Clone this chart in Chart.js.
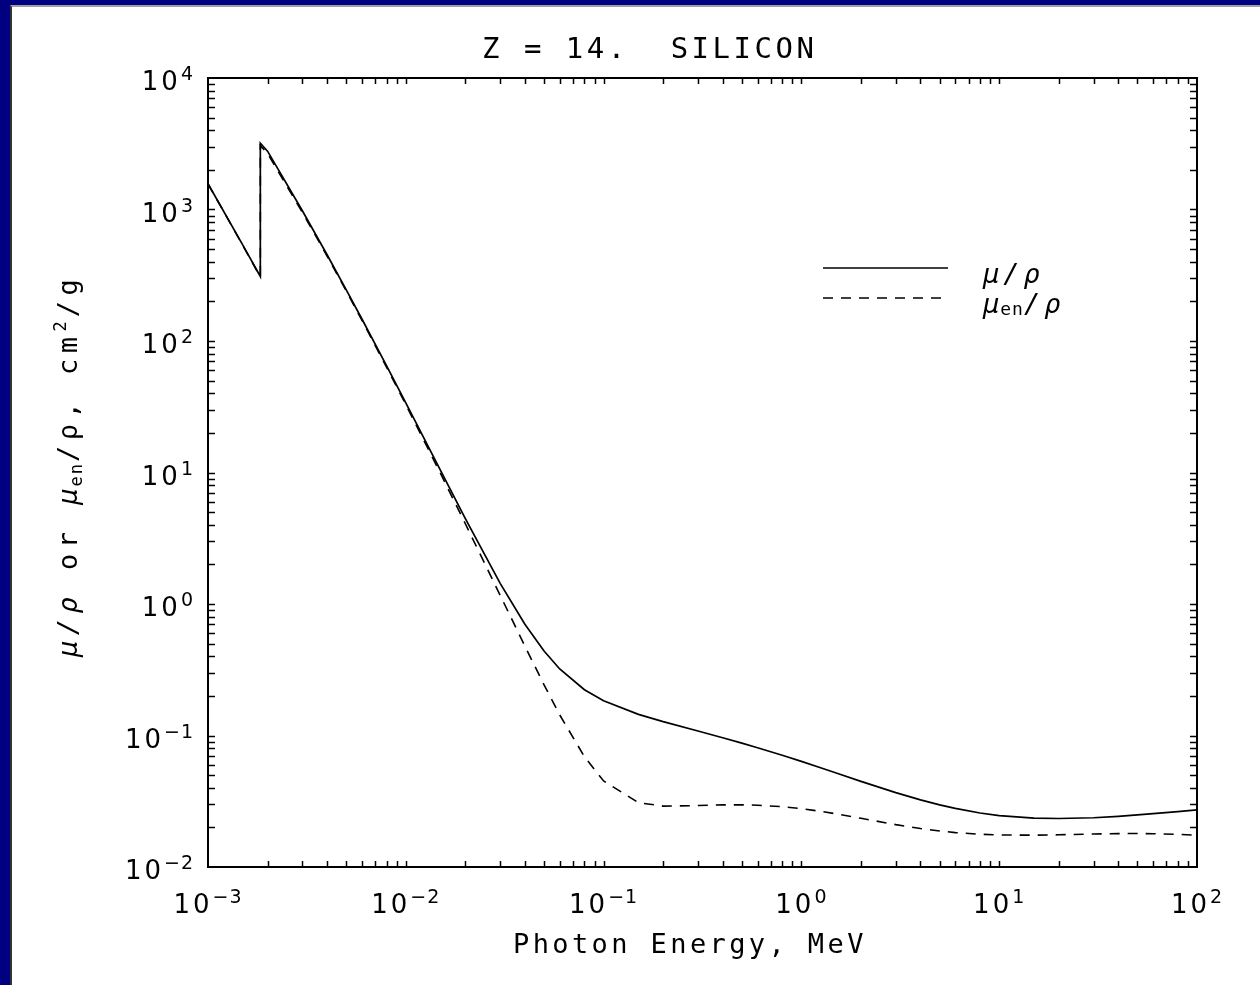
<!DOCTYPE html>
<html>
<head>
<meta charset="utf-8">
<script src="https://cdn.jsdelivr.net/npm/chart.js@4.4.1/dist/chart.umd.min.js"></script>
<style>
  html, body { margin: 0; padding: 0; background: #000080; overflow: hidden; }
  #panel {
    position: absolute; left: 10px; top: 5px; width: 1260px; height: 990px;
    background: #fff; border-left: 2px solid #333; border-top: 2px solid #a0a0a0;
  }
  #chart { position: absolute; left: 0; top: 0; }
</style>
</head>
<body>
<div id="panel"></div>
<canvas id="chart" width="1260" height="985"></canvas>
<script>
// photon energy, MeV (K edge listed twice)
const energia = [0.001, 0.0015, 0.0018389, 0.0018389, 0.002, 0.003, 0.004, 0.005, 0.006, 0.008,
    0.01, 0.015, 0.02, 0.03, 0.04, 0.05, 0.06, 0.08, 0.1, 0.15, 0.2, 0.3, 0.4, 0.5, 0.6, 0.8,
    1, 1.25, 1.5, 2, 3, 4, 5, 6, 8, 10, 15, 20, 30, 40, 50, 60, 80, 100];
// mu/rho, cm2/g
const muRho = [1570, 535.5, 309.2, 3192, 2777, 978.4, 452.9, 245.0, 147.0, 64.68,
    33.89, 10.34, 4.464, 1.436, 0.7012, 0.4385, 0.3207, 0.2228, 0.1835, 0.1448, 0.1275, 0.1082, 0.09614, 0.08748, 0.08077, 0.07082,
    0.06361, 0.05688, 0.05183, 0.04480, 0.03678, 0.03240, 0.02967, 0.02788, 0.02574, 0.02462, 0.02352, 0.02338, 0.02369, 0.02429, 0.02489, 0.02544, 0.02637, 0.02715];
// mu_en/rho, cm2/g
const muEnRho = [1567, 533.1, 307.0, 3059, 2669, 951.6, 442.7, 240.0, 143.9, 63.13,
    32.89, 9.794, 4.076, 1.164, 0.4782, 0.2430, 0.1434, 0.06896, 0.04513, 0.03086, 0.02905, 0.02932, 0.02968, 0.02971, 0.02951, 0.02875,
    0.02778, 0.02652, 0.02535, 0.02345, 0.02101, 0.01963, 0.01878, 0.01827, 0.01773, 0.01753, 0.01746, 0.01757, 0.01782, 0.01795, 0.01797, 0.01791, 0.01771, 0.01746];

const xExpoentes = [-3, -2, -1, 0, 1, 2];
const yExpoentes = [-2, -1, 0, 1, 2, 3, 4];

const titulo = 'Z = 14.  SILICON';
const tituloX = 'Photon Energy, MeV';

const fonteMono = '"DejaVu Sans Mono", monospace';
const fonteNum = '"DejaVu Sans", sans-serif';

function pontos(ys) {
    return energia.map((e, i) => ({ x: e, y: ys[i] }));
}

// escreve "10" com expoente sobrescrito
function potencia(ctx, exp, x, y, alinhar) {
    ctx.font = '26px ' + fonteNum;
    ctx.letterSpacing = '3px';
    const base = '10';
    const wb = ctx.measureText(base).width;
    ctx.font = '19px ' + fonteNum;
    ctx.letterSpacing = '1px';
    const ex = (exp < 0 ? '\u2212' : '') + Math.abs(exp);
    const we = ctx.measureText(ex).width;
    let x0 = alinhar === 'right' ? x - wb - we : x - (wb + we) / 2;
    ctx.font = '26px ' + fonteNum;
    ctx.letterSpacing = '3px';
    ctx.fillText(base, x0, y);
    ctx.font = '19px ' + fonteNum;
    ctx.letterSpacing = '1px';
    ctx.fillText(ex, x0 + wb, y - 10);
}

// texto em pedacos (subscrito / sobrescrito)
function pedacos(ctx, lista, x, y) {
    for (const p of lista) {
        ctx.font = p.fonte;
        ctx.letterSpacing = p.esp || '0px';
        ctx.fillText(p.t, x, y + (p.dy || 0));
        x += ctx.measureText(p.t).width;
    }
}

const moldura = {
    id: 'moldura',
    afterDatasetsDraw(chart) {
        const { ctx, chartArea: a, scales: { x, y } } = chart;
        ctx.save();
        ctx.strokeStyle = '#000';
        ctx.fillStyle = '#000';

        // marcas internas
        ctx.lineWidth = 1.5;
        ctx.beginPath();
        for (let e = -3; e < 2; e++) {
            for (let m = 1; m <= 9; m++) {
                const v = m * Math.pow(10, e);
                if (v <= 0.001) continue;
                const px = Math.round(x.getPixelForValue(v)) + 0.5;
                ctx.moveTo(px, a.bottom); ctx.lineTo(px, a.bottom - 6);
                ctx.moveTo(px, a.top); ctx.lineTo(px, a.top + 6);
            }
        }
        for (let e = -2; e < 4; e++) {
            for (let m = 1; m <= 9; m++) {
                const v = m * Math.pow(10, e);
                if (v <= 0.01) continue;
                const py = Math.round(y.getPixelForValue(v)) + 0.5;
                ctx.moveTo(a.left, py); ctx.lineTo(a.left + 7, py);
                ctx.moveTo(a.right, py); ctx.lineTo(a.right - 7, py);
            }
        }
        ctx.stroke();

        ctx.lineWidth = 2;
        ctx.strokeRect(a.left, a.top, a.right - a.left, a.bottom - a.top);

        // rotulos dos eixos
        ctx.textBaseline = 'alphabetic';
        ctx.textAlign = 'left';
        xExpoentes.forEach(ex => potencia(ctx, ex, x.getPixelForValue(Math.pow(10, ex)), a.bottom + 46, 'center'));
        yExpoentes.forEach(ex => potencia(ctx, ex, a.left - 14, y.getPixelForValue(Math.pow(10, ex)) + 12, 'right'));

        // titulo
        ctx.font = '29px ' + fonteMono;
        ctx.letterSpacing = '3.5px';
        ctx.fillText(titulo, 482, 58);

        // titulo do eixo x
        ctx.font = '27px ' + fonteMono;
        ctx.letterSpacing = '3.4px';
        ctx.fillText(tituloX, 513, 953);

        // titulo do eixo y (girado)
        const f = '27px ' + fonteMono, fi = 'italic 27px ' + fonteMono, fp = '17px ' + fonteMono;
        ctx.save();
        ctx.translate(77, 657);
        ctx.rotate(-Math.PI / 2);
        pedacos(ctx, [
            { t: '\u03bc/\u03c1', fonte: fi, esp: '5.5px' },
            { t: ' or ', fonte: f, esp: '5.5px' },
            { t: '\u03bc', fonte: fi, esp: '2px' },
            { t: 'en', fonte: fp, esp: '2px', dy: 5 },
            { t: '/\u03c1, cm', fonte: f, esp: '5.5px' },
            { t: '2', fonte: fp, dy: -11, esp: '4px' },
            { t: '/g', fonte: f, esp: '5.5px' }
        ], 0, 0);
        ctx.restore();

        // legenda
        const ds = chart.data.datasets;
        [[ds[0], 268], [ds[1], 298]].forEach(([d, ly]) => {
            ctx.lineWidth = d.borderWidth;
            ctx.setLineDash(d.borderDash || []);
            ctx.beginPath();
            ctx.moveTo(823, ly); ctx.lineTo(948, ly);
            ctx.stroke();
        });
        ctx.setLineDash([]);
        pedacos(ctx, [
            { t: '\u03bc/\u03c1', fonte: 'italic 27px ' + fonteMono, esp: '4px' }
        ], 983, 283);
        pedacos(ctx, [
            { t: '\u03bc', fonte: 'italic 27px ' + fonteMono, esp: '1px' },
            { t: 'en', fonte: '18px ' + fonteMono, esp: '1px', dy: 2 },
            { t: '/\u03c1', fonte: 'italic 27px ' + fonteMono, esp: '4px' }
        ], 983, 313);
        ctx.restore();
    }
};

new Chart(document.getElementById('chart').getContext('2d'), {
    type: 'line',
    data: {
        datasets: [
            { label: '\u03bc/\u03c1', data: pontos(muRho), borderColor: '#000', borderWidth: 1.7, pointRadius: 0, tension: 0 },
            { label: '\u03bcen/\u03c1', data: pontos(muEnRho), borderColor: '#000', borderWidth: 1.6, borderDash: [10, 8], pointRadius: 0, tension: 0 }
        ]
    },
    options: {
        responsive: false,
        animation: false,
        devicePixelRatio: 1,
        layout: { padding: { left: 208, top: 78, right: 63, bottom: 118 } },
        plugins: { legend: { display: false }, tooltip: { enabled: false } },
        scales: {
            x: { type: 'logarithmic', min: 0.001, max: 100, display: false },
            y: { type: 'logarithmic', min: 0.01, max: 10000, display: false }
        }
    },
    plugins: [moldura]
});
</script>
</body>
</html>
